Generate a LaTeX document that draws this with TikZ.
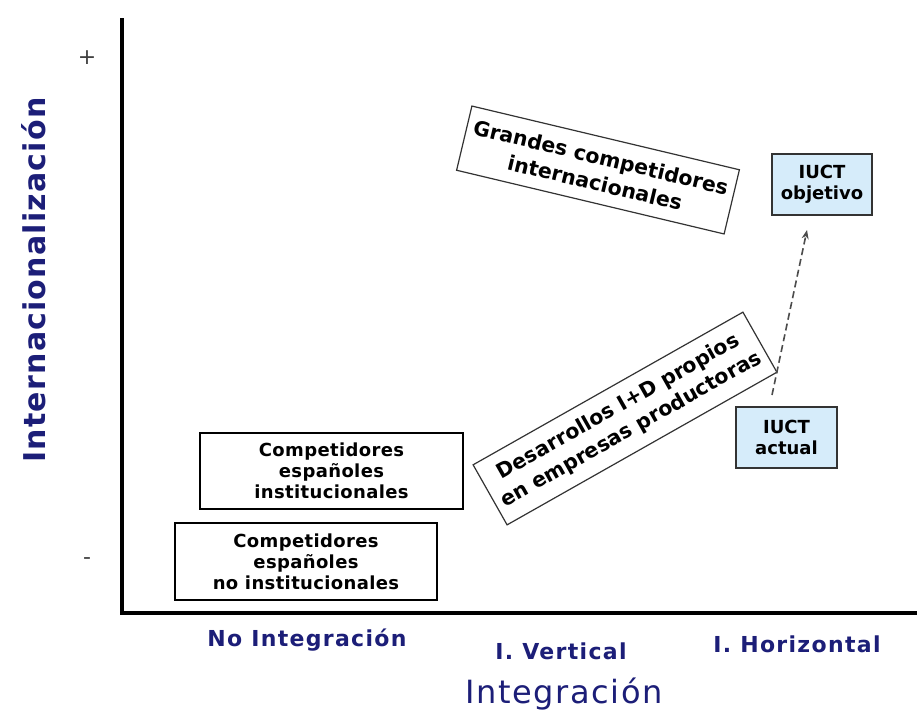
\documentclass[tikz,border=0pt]{standalone}
\usepackage{fontspec}
\setmainfont{DejaVu Sans}
\usetikzlibrary{arrows.meta}
\definecolor{navy}{RGB}{28,30,120}
\definecolor{iuctblue}{RGB}{214,236,250}
\begin{document}
\begin{tikzpicture}[x=1pt,y=-1pt,
  axisline/.style={line width=3.5pt, line join=miter},
  plainbox/.style={draw=black, line width=1.4pt, fill=white, align=center,
    font=\fontsize{18}{21}\selectfont\bfseries\addfontfeature{LetterSpace=2}, inner sep=0pt},
  tiltbox/.style={draw=black!80, line width=1.2pt, fill=white, align=center,
    inner sep=0pt},
  iuctbox/.style={draw=black!80, line width=1.6pt, fill=iuctblue, align=center,
    font=\fontsize{18}{21}\selectfont\bfseries, inner sep=0pt,
    minimum width=100pt, minimum height=61pt},
  catlbl/.style={text=navy, font=\fontsize{22}{26}\selectfont\bfseries\addfontfeature{LetterSpace=6}},
  signlbl/.style={text=black!75, font=\fontsize{22}{24}\selectfont},
  dasharrow/.style={draw=black!70, line width=1.6pt, dash pattern=on 7pt off 4pt,
    -{Stealth[length=9pt,width=7pt]}}]
\useasboundingbox (0,0) rectangle (917,713);
\fill[white] (0,0) rectangle (917,713);

% axes
\coordinate (ytop) at (122,18);
\coordinate (orig) at (122,613);
\coordinate (xend) at (917,613);
\draw[axisline] (ytop) -- (orig) -- (xend);

% axis titles
\node[rotate=90, text=navy, font=\fontsize{30}{33}\selectfont\bfseries\addfontfeature{LetterSpace=4}] (ytitle) at (34,280) {Internacionalización};
\node[text=navy, font=\fontsize{32}{35}\selectfont\addfontfeature{LetterSpace=5}] (xtitle) at (564,694) {Integración};

% signs
\node[signlbl] (plus) at (87,58) {+};
\node[signlbl] (minus) at (87,561) {-};

% category labels
\node[catlbl] (noint) at (307,640) {No Integración};
\node[catlbl] (ivert) at (561,651) {I. Vertical};
\node[catlbl] (ihor) at (797,644) {I. Horizontal};

% boxes
\node[plainbox, minimum width=263pt, minimum height=76pt] (inst) at (331.5,471)
  {Competidores\\españoles\\institucionales};
\node[plainbox, minimum width=262pt, minimum height=77pt] (noinst) at (306,561.5)
  {Competidores\\españoles\\no institucionales};
\node[tiltbox, rotate=-13.4, minimum width=275pt, minimum height=66pt,
  font=\fontsize{20.5}{26}\selectfont\bfseries] (grandes) at (598,170)
  {Grandes competidores\\internacionales};
\node[tiltbox, rotate=29.5, minimum width=310pt, minimum height=69pt,
  font=\fontsize{20.5}{26}\selectfont\bfseries] (desarr) at (625,418.5)
  {Desarrollos I+D propios\\en empresas productoras};
\node[iuctbox] (objetivo) at (822,184.5) {IUCT\\objetivo};
\node[iuctbox, minimum width=101pt] (actual) at (786.5,437.5) {IUCT\\actual};

% arrow
\coordinate (astart) at (772,395);
\coordinate (aend) at (807,230);
\draw[dasharrow] (astart) -- (aend);
\end{tikzpicture}
\end{document}
